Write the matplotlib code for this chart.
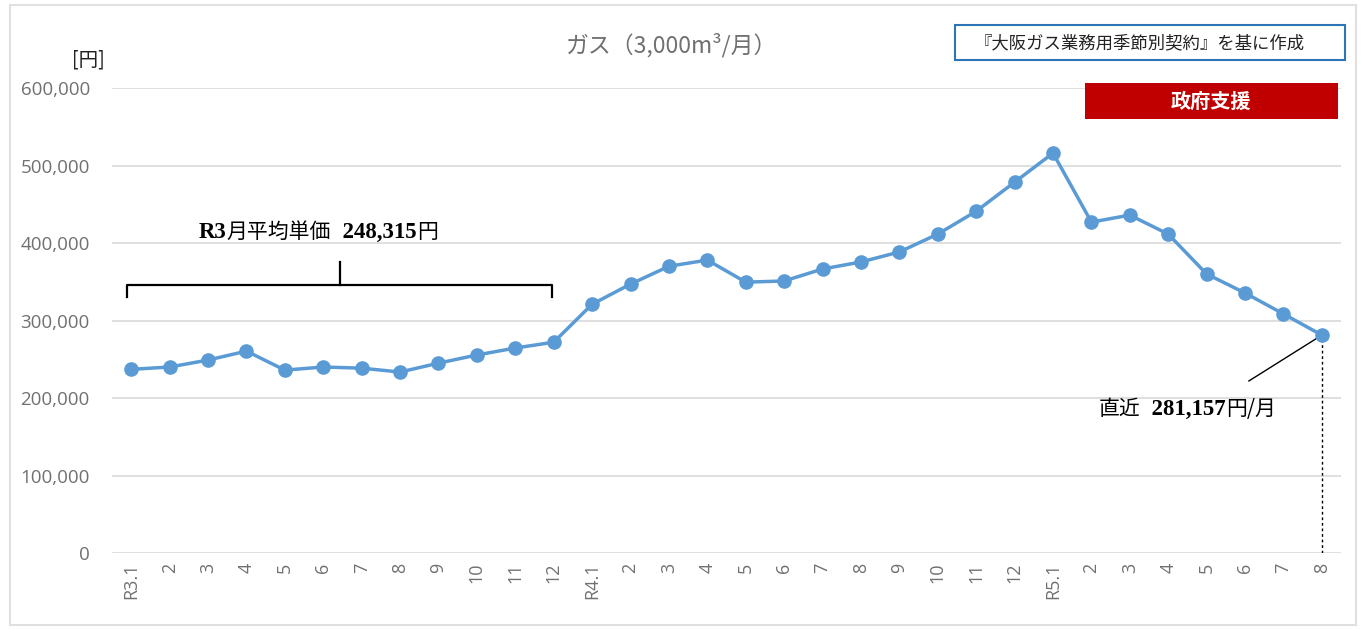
"""
ガス料金推移（3,000m3/月）チャート
"""
import matplotlib.pyplot as plt
import matplotlib.patches as mpatches
import numpy as np

plt.rcParams['font.family'] = ['Noto Sans CJK JP', 'DejaVu Sans']

# data
months = ['R3.1', '2', '3', '4', '5', '6', '7', '8', '9', '10', '11', '12',
          'R4.1', '2', '3', '4', '5', '6', '7', '8', '9', '10', '11', '12',
          'R5.1', '2', '3', '4', '5', '6', '7', '8']
prices = [237000, 240000, 249000, 260500, 236000, 240000, 238500, 233500,
          245000, 255500, 264500, 272000,
          321000, 347000, 370000, 378000, 349500, 351000, 366500, 375500,
          388500, 411500, 441000, 478500,
          516000, 427000, 436000, 411500, 360000, 335500, 308500, 281157]
y_ticks = [0, 100000, 200000, 300000, 400000, 500000, 600000]
r3_label = '月平均単価'
r3_avg = '248,315'
latest_value = '281,157'

line_color = '#5B9BD5'
grid_color = '#D9D9D9'
tick_color = '#707070'

fig = plt.figure(figsize=(13.63, 6.30), dpi=100)
ax = fig.add_axes([0.0822, 0.1222, 0.9017, 0.7381])

x = np.arange(len(months))
ax.plot(x, prices, color=line_color, linewidth=2.5, marker='o', markersize=9.5,
        zorder=3)

ax.set_xlim(-0.5, len(months) - 0.5)
ax.set_ylim(0, 600000)
ax.set_yticks(y_ticks)
ax.set_yticklabels([f'{v:,}' for v in y_ticks], fontsize=13.5, color=tick_color,
                   family=['Open Sans', 'DejaVu Sans'])
ax.set_xticks(x)
ax.set_xticklabels(months, rotation=90, fontsize=13, color=tick_color,
                   family=['Open Sans', 'DejaVu Sans'])
ax.tick_params(length=0, pad=7)
ax.tick_params(axis='y', pad=16)
ax.grid(axis='y', color=grid_color, linewidth=1.2)
ax.set_axisbelow(True)
for s in ax.spines.values():
    s.set_visible(False)

# title and unit
fig.text(0.493, 0.928, 'ガス（3,000m³/月）', ha='center', va='center',
         fontsize=16.5, color=tick_color)
fig.text(0.065, 0.905, '[円]', ha='center', va='center', fontsize=14,
         color='#222222')


def mixed_text(x0, y0, parts, coords):
    """draw text pieces one after another (text, family, weight, size)"""
    prev = None
    for s, fam, wt, sz in parts:
        if prev is None:
            prev = ax.annotate(s, xy=(x0, y0), xycoords=coords, ha='left',
                               va='baseline', family=fam, fontweight=wt,
                               fontsize=sz, color='black')
        else:
            prev = ax.annotate(s, xy=(1, 0), xycoords=prev, ha='left',
                               va='bottom', family=fam, fontweight=wt,
                               fontsize=sz, color='black')
    return prev


serif = ['Liberation Serif', 'DejaVu Serif']
jp = ['Noto Sans CJK JP', 'DejaVu Sans']

# R3 average bracket
bx0, bx1, btip = -0.1, 10.96, 5.44
by, bend, btop = 345800, 330500, 375500
ax.plot([bx0, bx0, bx1, bx1], [bend, by, by, bend], color='black', lw=1.6,
        solid_joinstyle='round')
ax.plot([btip, btip], [by, btop], color='black', lw=1.6)

mixed_text(0.146, 0.623, [('R3', serif, 'bold', 16.5),
                          (r3_label, jp, 'normal', 15),
                          ('  ' + r3_avg, serif, 'bold', 16.5),
                          ('円', jp, 'normal', 15)], 'figure fraction')

# latest annotation
last = len(months) - 1
ax.plot([last, last], [0, prices[-1]], color='black', lw=1, ls=(0, (2, 2)))
ax.plot([29.1, last], [222000, prices[-1]], color='black', lw=1)
mixed_text(0.806, 0.342, [('直近', jp, 'normal', 15),
                          ('  ' + latest_value, serif, 'bold', 16.5),
                          ('円/月', jp, 'normal', 15)], 'figure fraction')

# source box
fig.patches.append(mpatches.Rectangle((955 / 1363, 1 - 60 / 630), 390 / 1363,
                                      35 / 630, transform=fig.transFigure,
                                      facecolor='white', edgecolor='#2E75B6',
                                      linewidth=1.5))
fig.text(1140 / 1363, 1 - 43 / 630, '『大阪ガス業務用季節別契約』を基に作成',
         ha='center', va='center', fontsize=12.5, color='#222222')

# government support label
fig.patches.append(mpatches.Rectangle((1085 / 1363, 1 - 119 / 630), 253 / 1363,
                                      36 / 630, transform=fig.transFigure,
                                      facecolor='#C00000', edgecolor='none'))
fig.text(1211 / 1363, 1 - 101 / 630, '政府支援', ha='center', va='center',
         fontsize=14.5, color='white', fontweight='bold')

# outer frame
fig.patches.append(mpatches.Rectangle((10 / 1363, 5 / 630), 1346 / 1363,
                                      620 / 630, transform=fig.transFigure,
                                      facecolor='none', edgecolor='#E0E0E0',
                                      linewidth=1.5))

plt.savefig('out.png', dpi=100)
